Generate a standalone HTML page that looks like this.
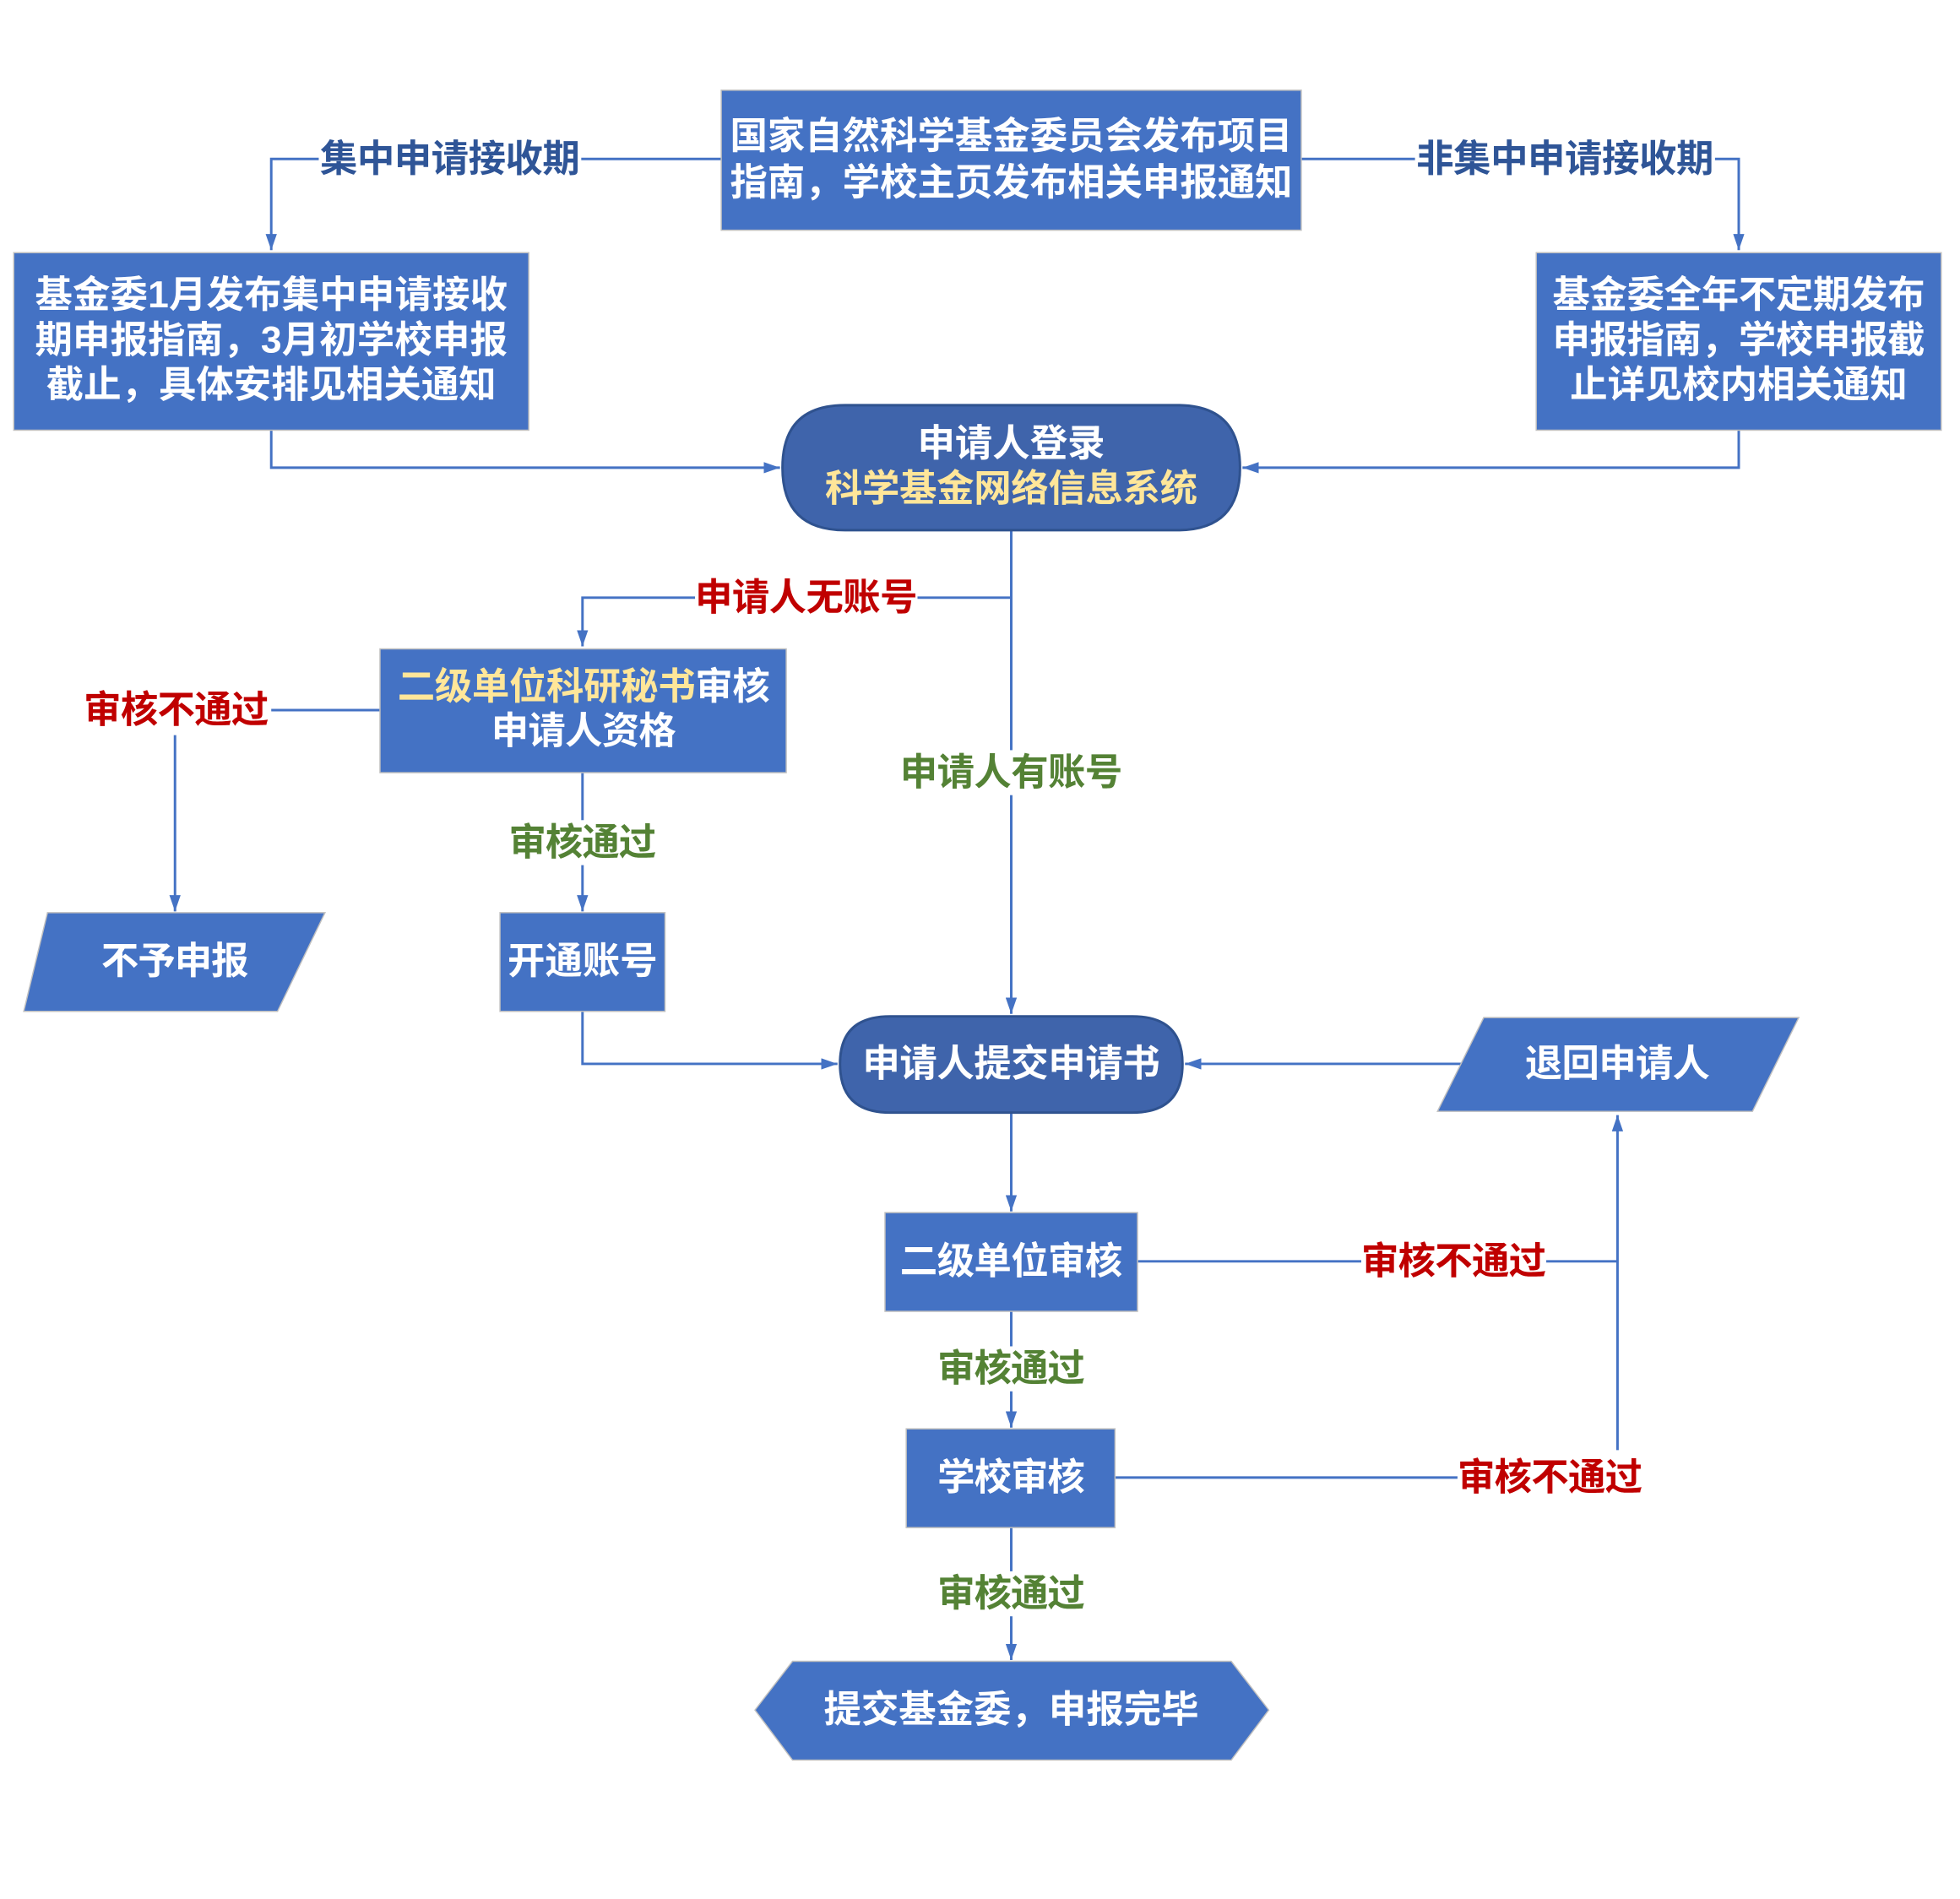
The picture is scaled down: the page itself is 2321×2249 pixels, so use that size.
<!DOCTYPE html>
<html><head><meta charset="utf-8"><style>
html,body{margin:0;padding:0;background:#fff;}
svg{display:block;}
text{font-family:"Liberation Sans","Noto Sans CJK SC",sans-serif;font-weight:bold;font-size:30px;text-anchor:middle;dominant-baseline:central;}
.w{fill:#fff;} .y{fill:#FFE699;} .r{fill:#C00000;} .g{fill:#548235;} .b{fill:#2F5597;}
.ln{stroke:#4472C4;stroke-width:2;fill:none;}
.bx{fill:#4472C4;stroke:#BFBFBF;stroke-width:1;}
.tm{fill:#3F64AB;stroke:#2F528F;stroke-width:2;}
</style></head><body>
<svg width="2321" height="2249" viewBox="0 0 1568 1519" xmlns="http://www.w3.org/2000/svg">
<defs>
<marker id="a" viewBox="0 0 10 10" refX="10" refY="5" markerWidth="13" markerHeight="9" markerUnits="userSpaceOnUse" orient="auto-start-reverse" preserveAspectRatio="none">
<path d="M0,0 L10,5 L0,10 z" fill="#4472C4"/></marker>
</defs>
<rect width="1568" height="1519" fill="#fff"/>
<polyline class="ln" points="577,127 217,127 217,200" marker-end="url(#a)"/>
<polyline class="ln" points="1041,127 1391,127 1391,200" marker-end="url(#a)"/>
<polyline class="ln" points="217,344 217,374 624,374" marker-end="url(#a)"/>
<polyline class="ln" points="1391,344 1391,374 994,374" marker-end="url(#a)"/>
<polyline class="ln" points="809,424 809,811" marker-end="url(#a)"/>
<polyline class="ln" points="809,478 466,478 466,517" marker-end="url(#a)"/>
<polyline class="ln" points="304,568 217,568"/>
<polyline class="ln" points="140,588 140,729" marker-end="url(#a)"/>
<polyline class="ln" points="466,618 466,729" marker-end="url(#a)"/>
<polyline class="ln" points="466,809 466,851 670,851" marker-end="url(#a)"/>
<polyline class="ln" points="1170,851 948,851" marker-end="url(#a)"/>
<polyline class="ln" points="809,890 809,969" marker-end="url(#a)"/>
<polyline class="ln" points="910,1009 1294,1009"/>
<polyline class="ln" points="1294,1160 1294,892" marker-end="url(#a)"/>
<polyline class="ln" points="809,1049 809,1142" marker-end="url(#a)"/>
<polyline class="ln" points="892,1182 1166,1182"/>
<polyline class="ln" points="809,1222 809,1328" marker-end="url(#a)"/>
<rect x="255" y="110" width="210" height="34" fill="#fff"/>
<rect x="1132" y="110" width="240" height="34" fill="#fff"/>
<rect x="556" y="461" width="178" height="34" fill="#fff"/>
<rect x="720" y="600" width="178" height="36" fill="#fff"/>
<rect x="407" y="656" width="120" height="36" fill="#fff"/>
<rect x="1089" y="991" width="148" height="36" fill="#fff"/>
<rect x="749" y="1077" width="120" height="36" fill="#fff"/>
<rect x="749" y="1257" width="120" height="36" fill="#fff"/>

<rect class="bx" x="577" y="72" width="464" height="112"/>
<text class="w" x="809" y="109" textLength="450">国家自然科学基金委员会发布项目</text>
<text class="w" x="809" y="146" textLength="450">指南，学校主页发布相关申报通知</text>
<text class="b" x="360" y="127" textLength="208">集中申请接收期</text>
<text class="b" x="1252" y="127" textLength="238">非集中申请接收期</text>

<rect class="bx" x="11" y="202" width="412" height="142"/>
<text class="w" x="217" y="236" textLength="378">基金委1月发布集中申请接收</text>
<text class="w" x="217" y="272" textLength="378">期申报指南，3月初学校申报</text>
<text class="w" x="217" y="308" textLength="360">截止，具体安排见相关通知</text>

<rect class="bx" x="1229" y="202" width="324" height="142"/>
<text class="w" x="1391" y="236" textLength="298">基金委全年不定期发布</text>
<text class="w" x="1391" y="272" textLength="298">申报指南，学校申报截</text>
<text class="w" x="1391" y="308" textLength="270">止详见校内相关通知</text>

<path class="tm" d="M676,324 L942,324 Q992,324 992,374 Q992,424 942,424 L676,424 Q626,424 626,374 Q626,324 676,324 Z"/>
<text class="w" x="809" y="355" textLength="150">申请人登录</text>
<text class="y" x="809" y="391" textLength="298">科学基金网络信息系统</text>

<text class="r" x="645" y="478" textLength="178">申请人无账号</text>
<text class="g" x="809" y="618" textLength="178">申请人有账号</text>

<rect class="bx" x="304" y="519" width="325" height="99"/>
<text x="467" y="549" textLength="298"><tspan class="y">二级单位科研秘书</tspan><tspan class="w">审核</tspan></text>
<text class="w" x="467" y="585" textLength="148">申请人资格</text>

<text class="r" x="141" y="568" textLength="148">审核不通过</text>
<text class="g" x="466" y="674" textLength="118">审核通过</text>

<polygon class="bx" points="38,730 260,730 222,809 19,809"/>
<text class="w" x="140" y="769" textLength="118">不予申报</text>

<rect class="bx" x="400" y="730" width="132" height="79"/>
<text class="w" x="466" y="769" textLength="120">开通账号</text>

<path class="tm" d="M712,813 L906,813 Q946,813 946,851 Q946,890 906,890 L712,890 Q672,890 672,851 Q672,813 712,813 Z"/>
<text class="w" x="809" y="851" textLength="238">申请人提交申请书</text>

<polygon class="bx" points="1187,814 1439,814 1402,889 1150,889"/>
<text class="w" x="1294" y="851" textLength="148">退回申请人</text>

<rect class="bx" x="708" y="970" width="202" height="79"/>
<text class="w" x="809" y="1009" textLength="178">二级单位审核</text>
<text class="r" x="1163" y="1009" textLength="148">审核不通过</text>
<text class="g" x="809" y="1095" textLength="118">审核通过</text>

<rect class="bx" x="725" y="1143" width="167" height="79"/>
<text class="w" x="809" y="1182" textLength="118">学校审核</text>
<text class="r" x="1240" y="1182" textLength="148">审核不通过</text>
<text class="g" x="809" y="1275" textLength="118">审核通过</text>

<polygon class="bx" points="634,1329 985,1329 1015,1368 985,1408 634,1408 604,1368"/>
<text class="w" x="809" y="1368" textLength="300">提交基金委，申报完毕</text>
</svg>
</body></html>
